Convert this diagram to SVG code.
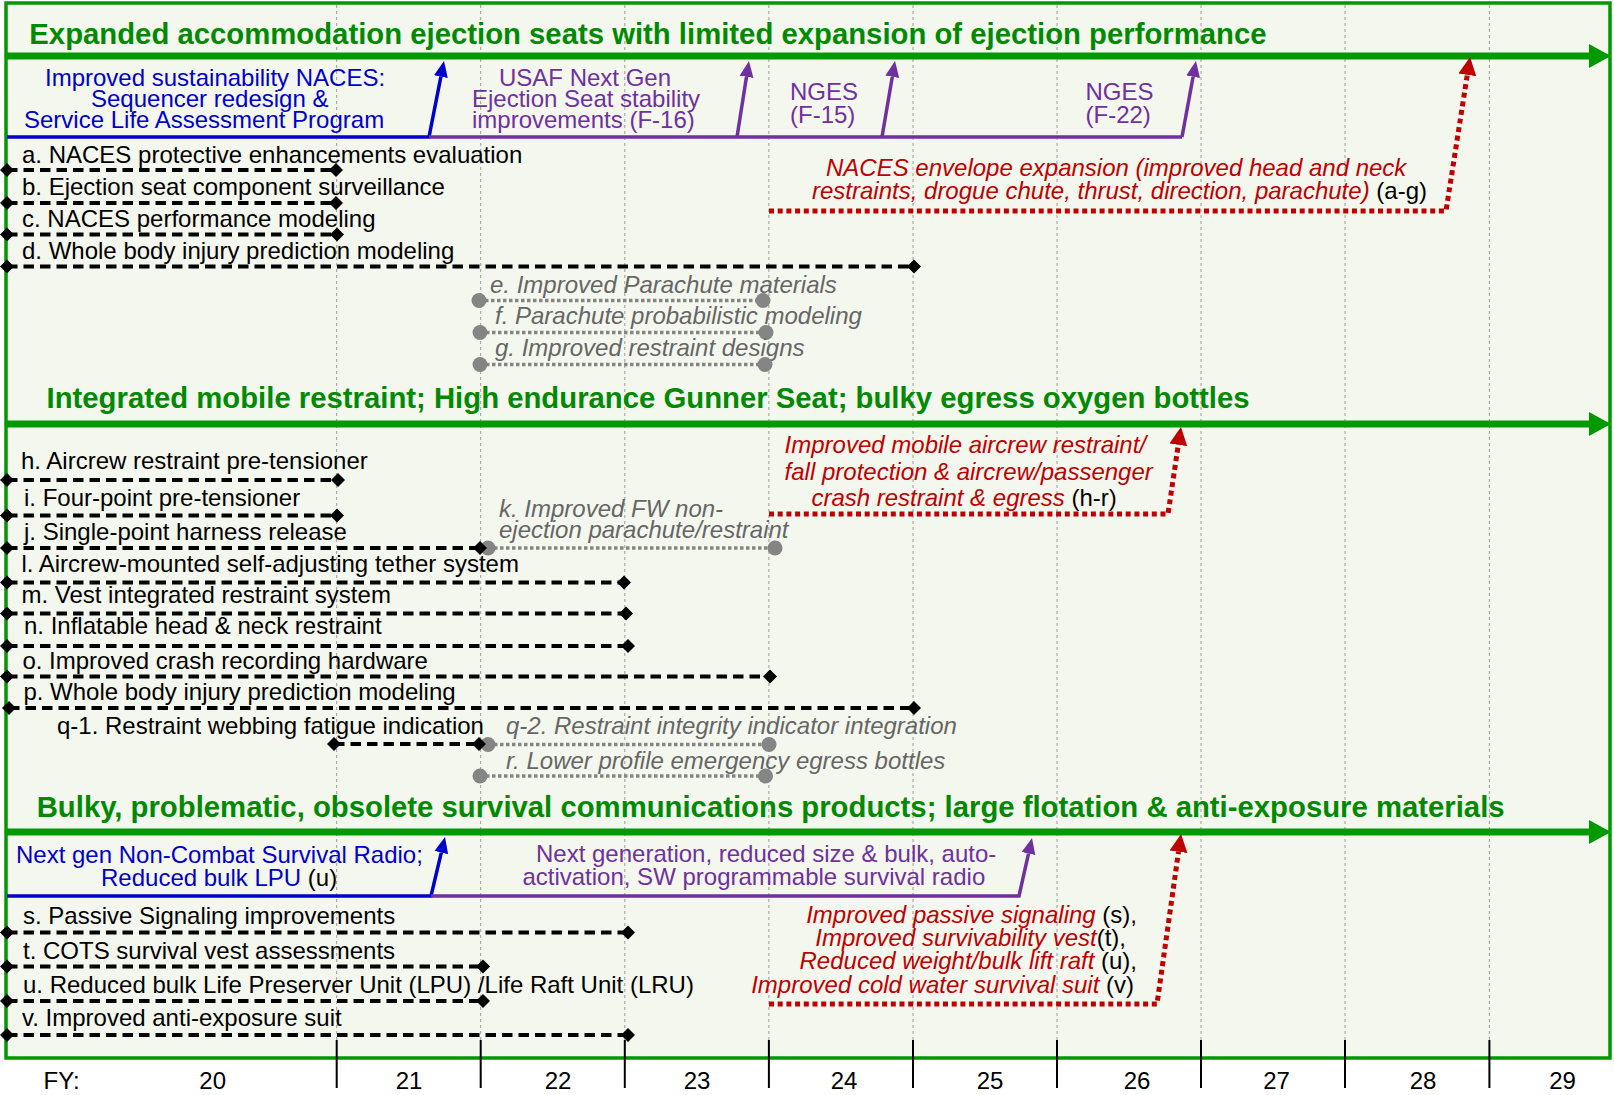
<svg xmlns="http://www.w3.org/2000/svg" width="1614" height="1095" viewBox="0 0 1614 1095">
<style>
text{font-family:"Liberation Sans",Arial,sans-serif;font-size:24px;fill:#000}
.h{font-weight:bold;font-size:29.3px;fill:#008A00}
.gi{fill:#666;font-style:italic}
.ri{fill:#C00000;font-style:italic}
.k{fill:#000;font-style:normal}
.bl{fill:#0000CC}
.pu{fill:#7030A0}
.grid{stroke:#9a9a9a;stroke-width:1;stroke-dasharray:3 3}
.tick{stroke:#000;stroke-width:2}
.gl{stroke:#009900;stroke-width:7;fill:none}
.dash{stroke:#000;stroke-width:4;stroke-dasharray:10.5 6;fill:none;marker-start:url(#dia);marker-end:url(#dia)}
.dot{stroke:#858585;stroke-width:3.5;stroke-dasharray:3.5 2.5;fill:none;marker-start:url(#cir);marker-end:url(#cir)}
.blu{stroke:#0000CC;stroke-width:3.5;fill:none}
.pur{stroke:#7030A0;stroke-width:3.5;fill:none}
.red{stroke:#C00000;stroke-width:5;stroke-dasharray:5 3.7;fill:none}
</style>
<defs>
<marker id="dia" markerUnits="userSpaceOnUse" markerWidth="16" markerHeight="16" viewBox="-8 -8 16 16" refX="0" refY="0" orient="0"><path d="M0,-7 L7,0 L0,7 L-7,0 Z" fill="#000"/></marker>
<marker id="cir" markerUnits="userSpaceOnUse" markerWidth="18" markerHeight="18" viewBox="-9 -9 18 18" refX="0" refY="0" orient="0"><circle r="7.5" fill="#858585"/></marker>
<marker id="ag" markerUnits="userSpaceOnUse" markerWidth="24" markerHeight="26" viewBox="0 -13 24 26" refX="0" refY="0" orient="auto"><path d="M0,-12 L22,0 L0,12 Z" fill="#009900"/></marker>
<marker id="ab" markerUnits="userSpaceOnUse" markerWidth="18" markerHeight="16" viewBox="0 -8 18 16" refX="0" refY="0" orient="auto"><path d="M0,-7 L16,0 L0,7 Z" fill="#0000CC"/></marker>
<marker id="ap" markerUnits="userSpaceOnUse" markerWidth="18" markerHeight="16" viewBox="0 -8 18 16" refX="0" refY="0" orient="auto"><path d="M0,-7 L16,0 L0,7 Z" fill="#7030A0"/></marker>
<marker id="ar" markerUnits="userSpaceOnUse" markerWidth="20" markerHeight="20" viewBox="0 -10 20 20" refX="0" refY="0" orient="auto"><path d="M0,-9 L18,0 L0,9 Z" fill="#C00000"/></marker>
</defs>
<rect x="0" y="0" width="1614" height="1095" fill="#fff"/>
<rect x="6" y="3" width="1604" height="1055" fill="#F4F7EE" stroke="#009900" stroke-width="3.5"/>
<g id="grid">
<line class="grid" x1="336.7" y1="5" x2="336.7" y2="1040"/>
<line class="grid" x1="480.7" y1="5" x2="480.7" y2="1040"/>
<line class="grid" x1="624.8" y1="5" x2="624.8" y2="1040"/>
<line class="grid" x1="768.9" y1="5" x2="768.9" y2="1040"/>
<line class="grid" x1="913" y1="5" x2="913" y2="1040"/>
<line class="grid" x1="1057" y1="5" x2="1057" y2="1040"/>
<line class="grid" x1="1201" y1="5" x2="1201" y2="1040"/>
<line class="grid" x1="1345" y1="5" x2="1345" y2="1040"/>
<line class="grid" x1="1489.4" y1="5" x2="1489.4" y2="1040"/>
<line class="tick" x1="336.7" y1="1040" x2="336.7" y2="1088"/>
<line class="tick" x1="480.7" y1="1040" x2="480.7" y2="1088"/>
<line class="tick" x1="624.8" y1="1040" x2="624.8" y2="1088"/>
<line class="tick" x1="768.9" y1="1040" x2="768.9" y2="1088"/>
<line class="tick" x1="913" y1="1040" x2="913" y2="1088"/>
<line class="tick" x1="1057" y1="1040" x2="1057" y2="1088"/>
<line class="tick" x1="1201" y1="1040" x2="1201" y2="1088"/>
<line class="tick" x1="1345" y1="1040" x2="1345" y2="1088"/>
<line class="tick" x1="1489.4" y1="1040" x2="1489.4" y2="1088"/>
</g>
<g id="years" style="text-anchor:middle">
<text x="43.6" y="1089" style="text-anchor:start">FY:</text>
<text x="212.7" y="1089">20</text>
<text x="409" y="1089">21</text>
<text x="558" y="1089">22</text>
<text x="697" y="1089">23</text>
<text x="844" y="1089">24</text>
<text x="990" y="1089">25</text>
<text x="1137" y="1089">26</text>
<text x="1276.6" y="1089">27</text>
<text x="1423" y="1089">28</text>
<text x="1562.5" y="1089">29</text>
</g>
<g id="header1"><text class="h" x="29.3" y="43.5">Expanded accommodation ejection seats with limited expansion of ejection performance</text></g>
<g id="header2"><text class="h" x="46.5" y="408">Integrated mobile restraint; High endurance Gunner Seat; bulky egress oxygen bottles</text></g>
<g id="header3"><text class="h" x="36.7" y="816.5">Bulky, problematic, obsolete survival communications products; large flotation &amp; anti-exposure materials</text></g>
<g id="naces-sustain">
<text class="bl" x="45" y="86">Improved sustainability NACES:</text>
<text class="bl" x="91" y="107">Sequencer redesign &amp;</text>
<text class="bl" x="24" y="128">Service Life Assessment Program</text>
</g>
<g id="usaf-nextgen">
<text class="pu" x="499" y="86">USAF Next Gen</text>
<text class="pu" x="472" y="107">Ejection Seat stability</text>
<text class="pu" x="472" y="128">improvements (F-16)</text>
</g>
<g id="nges-f15">
<text class="pu" x="790" y="99.5">NGES</text>
<text class="pu" x="790" y="122.5">(F-15)</text>
</g>
<g id="nges-f22">
<text class="pu" x="1085.5" y="99.5">NGES</text>
<text class="pu" x="1085.5" y="122.5">(F-22)</text>
</g>
<g id="naces-envelope">
<text class="ri" x="826" y="176">NACES envelope expansion (improved head and neck</text>
<text class="ri" x="812" y="199.3">restraints, drogue chute, thrust, direction, parachute)<tspan class="k"> (a-g)</tspan></text>
</g>
<g id="item-a"><text x="22" y="163">a. NACES protective enhancements evaluation</text><line class="dash" x1="7" y1="170" x2="336" y2="170"/></g>
<g id="item-b"><text x="22" y="195">b. Ejection seat component surveillance</text><line class="dash" x1="7" y1="203" x2="336" y2="203"/></g>
<g id="item-c"><text x="22" y="227">c. NACES performance modeling</text><line class="dash" x1="7" y1="234.5" x2="337" y2="234.5"/></g>
<g id="item-d"><text x="22" y="258.5">d. Whole body injury prediction modeling</text><line class="dash" x1="7" y1="266.5" x2="914" y2="266.5"/></g>
<g id="item-e"><text class="gi" x="490" y="292.7">e. Improved Parachute materials</text><line class="dot" x1="479" y1="300.5" x2="763" y2="300.5"/></g>
<g id="item-f"><text class="gi" x="495" y="324">f. Parachute probabilistic modeling</text><line class="dot" x1="480" y1="332.5" x2="766" y2="332.5"/></g>
<g id="item-g"><text class="gi" x="495" y="356">g. Improved restraint designs</text><line class="dot" x1="480" y1="364.5" x2="765" y2="364.5"/></g>
<g id="mobile-restraint">
<text class="ri" x="784.6" y="453.3">Improved mobile aircrew restraint/</text>
<text class="ri" x="784.6" y="480">fall protection &amp; aircrew/passenger</text>
<text class="ri" x="811.4" y="506">crash restraint &amp; egress<tspan class="k"> (h-r)</tspan></text>
</g>
<g id="item-h"><text x="21" y="469">h. Aircrew restraint pre-tensioner</text><line class="dash" x1="7" y1="480" x2="338" y2="480"/></g>
<g id="item-i"><text x="24" y="506">i. Four-point pre-tensioner</text><line class="dash" x1="7" y1="515.5" x2="337" y2="515.5"/></g>
<g id="item-k"><text class="gi" x="499" y="517">k. Improved FW non-</text><text class="gi" x="499" y="537.5">ejection parachute/restraint</text><line class="dot" x1="488" y1="548" x2="775" y2="548"/></g>
<g id="item-j"><text x="24" y="540">j. Single-point harness release</text><line class="dash" x1="7" y1="548" x2="480" y2="548"/></g>
<g id="item-l"><text x="21.4" y="572">l. Aircrew-mounted self-adjusting tether system</text><line class="dash" x1="7" y1="582.5" x2="624" y2="582.5"/></g>
<g id="item-m"><text x="21.4" y="603">m. Vest integrated restraint system</text><line class="dash" x1="7" y1="613.5" x2="626" y2="613.5"/></g>
<g id="item-n"><text x="24" y="634">n. Inflatable head &amp; neck restraint</text><line class="dash" x1="7" y1="646" x2="628" y2="646"/></g>
<g id="item-o"><text x="22.4" y="668.5">o. Improved crash recording hardware</text><line class="dash" x1="7" y1="676.5" x2="770" y2="676.5"/></g>
<g id="item-p"><text x="23.4" y="700">p. Whole body injury prediction modeling</text><line class="dash" x1="9" y1="708" x2="914" y2="708"/></g>
<g id="item-q2"><text class="gi" x="506" y="734">q-2. Restraint integrity indicator integration</text><line class="dot" x1="488" y1="744.5" x2="769" y2="744.5"/></g>
<g id="item-q1"><text x="57" y="733.5">q-1. Restraint webbing fatigue indication</text><line class="dash" x1="334" y1="744" x2="479" y2="744"/></g>
<g id="item-r"><text class="gi" x="506" y="768.5">r. Lower profile emergency egress bottles</text><line class="dot" x1="480" y1="776" x2="765.5" y2="776"/></g>
<g id="ncsr">
<text class="bl" x="16" y="862.7">Next gen Non-Combat Survival Radio;</text>
<text class="bl" x="101" y="886">Reduced bulk LPU<tspan class="k"> (u)</tspan></text>
</g>
<g id="nextgen-radio">
<text class="pu" x="536" y="861.7">Next generation, reduced size &amp; bulk, auto-</text>
<text class="pu" x="522.4" y="885">activation, SW programmable survival radio</text>
</g>
<g id="survival-improvements" style="text-anchor:end">
<text class="ri" x="1137" y="923.3">Improved passive signaling<tspan class="k"> (s),</tspan></text>
<text class="ri" x="1126" y="946">Improved survivability vest<tspan class="k">(t),</tspan></text>
<text class="ri" x="1137" y="969.3">Reduced weight/bulk lift raft<tspan class="k"> (u),</tspan></text>
<text class="ri" x="1134" y="992.7">Improved cold water survival suit<tspan class="k"> (v)</tspan></text>
</g>
<g id="item-s"><text x="23" y="924">s. Passive Signaling improvements</text><line class="dash" x1="7" y1="932.5" x2="628" y2="932.5"/></g>
<g id="item-t"><text x="23" y="958.5">t. COTS survival vest assessments</text><line class="dash" x1="7" y1="966.5" x2="483" y2="966.5"/></g>
<g id="item-u"><text x="23" y="992.5">u. Reduced bulk Life Preserver Unit (LPU) /Life Raft Unit (LRU)</text><line class="dash" x1="7" y1="1001" x2="483" y2="1001"/></g>
<g id="item-v"><text x="22" y="1026">v. Improved anti-exposure suit</text><line class="dash" x1="7" y1="1035" x2="628" y2="1035"/></g>
<g id="connectors">
<path class="gl" d="M6,56 H1589" marker-end="url(#ag)"/>
<path class="gl" d="M6,424 H1589" marker-end="url(#ag)"/>
<path class="gl" d="M6,832 H1589" marker-end="url(#ag)"/>
<path class="blu" d="M7,137 H429 L440.9,76.7" marker-end="url(#ab)"/>
<path class="pur" d="M429,137 H1182"/>
<path class="pur" d="M737,137 L746.5,76.8" marker-end="url(#ap)"/>
<path class="pur" d="M882,137 L892.3,76.8" marker-end="url(#ap)"/>
<path class="pur" d="M1182,137 L1193.1,76.7" marker-end="url(#ap)"/>
<path class="blu" d="M7,896 H431 L441.3,852.6" marker-end="url(#ab)"/>
<path class="pur" d="M431,896 H1019 L1028.5,853.6" marker-end="url(#ap)"/>
<path class="red" d="M769,211 H1446 L1467.3,74.8" marker-end="url(#ar)"/>
<path class="red" d="M769,514 H1168 L1178.3,444.8" marker-end="url(#ar)"/>
<path class="red" d="M769,1004 H1157 L1178.5,851.8" marker-end="url(#ar)"/>
</g>
</svg>
